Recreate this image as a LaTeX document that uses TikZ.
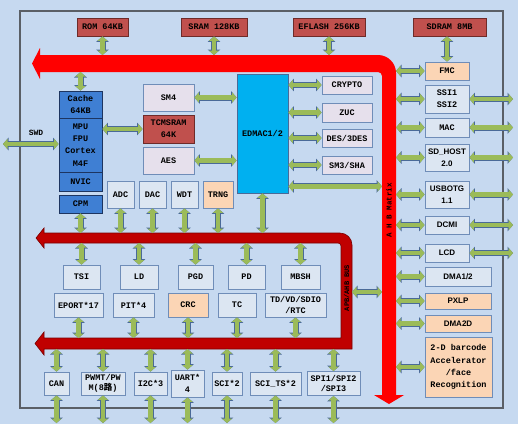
\documentclass[tikz,border=0pt]{standalone}
\usepackage{fontspec}
\setmainfont{Liberation Serif}
\setsansfont{Liberation Sans}
\setmonofont{Liberation Mono}
\newfontfamily\cjk{Noto Sans CJK SC}
\usetikzlibrary{arrows.meta}

\definecolor{bgblue}{HTML}{C6D9F0}
\definecolor{rimgray}{HTML}{5A5F66}
\definecolor{boxfill}{HTML}{DCE6F2}
\definecolor{boxline}{HTML}{6F8DB8}
\definecolor{memred}{HTML}{C0504D}
\definecolor{memline}{HTML}{6E2B29}
\definecolor{peach}{HTML}{FBD5B5}
\definecolor{lavender}{HTML}{E6E0EC}
\definecolor{cpublue}{HTML}{3F7FD3}
\definecolor{cpuline}{HTML}{1D3560}
\definecolor{dmacyan}{HTML}{00B0F0}
\definecolor{lgreen}{HTML}{9BBB59}
\definecolor{linkedge}{HTML}{4A6A98}
\definecolor{ahbred}{HTML}{FF0000}
\definecolor{apbred}{HTML}{C00000}
\definecolor{apbline}{HTML}{7A0000}

\tikzset{
  box/.style={draw=boxline, fill=boxfill, line width=0.8pt, inner sep=0pt,
    align=center, font=\ttfamily\bfseries\fontsize{8.5}{12.3}\selectfont},
  sz/.style 2 args={minimum width=#1, minimum height=#2},
  mem/.style={box, fill=memred, draw=memline},
  hot/.style={box, fill=peach},
  lav/.style={box, fill=lavender},
  cpu/.style={box, fill=cpublue, draw=cpuline},
  sf/.style={font=\sffamily\bfseries\fontsize{8}{12.3}\selectfont},
  buslabel/.style={inner sep=0pt, font=\ttfamily\bfseries\fontsize{7.5}{8}\selectfont},
  link/.style={draw=lgreen, line width=4.5pt,
    {Triangle[width=10pt,length=4.5pt]}-{Triangle[width=10pt,length=4.5pt]},
    preaction={draw=linkedge, line width=6pt,
      {Triangle[width=12.5pt,length=5.5pt]}-{Triangle[width=12.5pt,length=5.5pt]}}}
}

\begin{document}
\begin{tikzpicture}[x=1pt, y=-1pt]
  \useasboundingbox (0,0) rectangle (518,424);
  \fill[bgblue] (0,0) rectangle (518,424);
  \draw[rimgray, line width=1.2pt] (20,11) rectangle (503,408);

  % AHB matrix
  \fill[ahbred] (32,63.5) -- (40,48) -- (40,55) -- (200,55) [rounded corners=18pt]
    -- (396,55) -- (396,200) [sharp corners] -- (396,395) -- (404,395) -- (389,404)
    -- (374,395) -- (382,395) -- (382,200) [rounded corners=4pt] -- (382,72)
    -- (200,72) [sharp corners] -- (40,72) -- (40,79) -- cycle;
  % APB bus
  \filldraw[fill=apbred, draw=apbline, line width=0.6pt] (36,238) -- (44,228) -- (44,233)
    -- (200,233) [rounded corners=12pt] -- (352,233) -- (352,300) [sharp corners]
    -- (352,349) -- (44,349) -- (44,355) -- (35,343.5) -- (44,332) -- (44,338)
    -- (341,338) -- (341,300) [rounded corners=3pt] -- (341,243) -- (200,243)
    [sharp corners] -- (44,243) -- (44,248) -- cycle;
  \node[buslabel, rotate=90] (ahbname) at (389,210) {A H B Matrix};
  \node[buslabel, font=\ttfamily\bfseries\fontsize{7}{8}\selectfont, rotate=90] (apbname) at (346.5,288) {APB/AHB BUS};

  \coordinate (ahbtop) at (0,55);
  \coordinate (ahbbot) at (0,72);
  \coordinate (ahbleft) at (382,0);
  \coordinate (ahbright) at (396,0);
  \coordinate (apbtop) at (0,233);
  \coordinate (apbmid) at (0,243);
  \coordinate (apblow) at (0,338);
  \coordinate (apbbot) at (0,349);
  \coordinate (bridge) at (352,292);
  \coordinate (rim) at (513,0);
  \coordinate (floor) at (0,423);
  \coordinate (swd) at (3,144);

  % memories
  \node[mem, sz={51}{18}] (rom) at (102.5,27) {ROM 64KB};
  \node[mem, sz={66}{18}] (sram) at (214,27) {SRAM 128KB};
  \node[mem, sz={72}{18}] (flash) at (329,27) {EFLASH 256KB};
  \node[mem, sz={73}{18}] (sdram) at (449.5,27) {SDRAM 8MB};

  % core
  \node[cpu, sz={43}{27}] (cache) at (80.5,104.5) {Cache\\64KB};
  \node[cpu, sz={43}{54}] (core) at (80.5,145) {MPU\\FPU\\Cortex\\M4F};
  \node[cpu, sz={43}{19}] (nvic) at (80.5,181.5) {NVIC};
  \node[cpu, sz={43}{18}] (cpm) at (80.5,204) {CPM};
  \node[buslabel, font=\ttfamily\bfseries\fontsize{8}{9}\selectfont] (swdname) at (36,133) {SWD};

  \node[lav, sz={51}{27}] (sm4) at (168.5,97.5) {SM4};
  \node[mem, sz={51}{28}] (tcm) at (168.5,129) {TCMSRAM\\64K};
  \node[lav, sz={51}{27}] (aes) at (168.5,160.5) {AES};
  \node[box, fill=dmacyan, draw=linkedge, sz={51}{119}] (edmac) at (262.5,133.5) {EDMAC1/2};
  \node[lav, sz={50}{18}] (crypto) at (347,85) {CRYPTO};
  \node[lav, sz={50}{19}] (zuc) at (347,112.5) {ZUC};
  \node[lav, sz={50}{18}] (des) at (347,138) {DES/3DES};
  \node[lav, sz={50}{18}] (sm3) at (347,165) {SM3/SHA};

  % peripherals on the APB bus
  \node[box, sz={27}{27}] (adc) at (120.5,194.5) {ADC};
  \node[box, sz={27}{27}] (dac) at (152.5,194.5) {DAC};
  \node[box, sz={27}{27}] (wdt) at (184.5,194.5) {WDT};
  \node[hot, sz={30}{27}] (trng) at (218,194.5) {TRNG};

  \node[box, sz={37}{24}] (tsi) at (81.5,277) {TSI};
  \node[box, sz={38}{24}] (ld) at (139,277) {LD};
  \node[box, sz={35}{24}] (pgd) at (195.5,277) {PGD};
  \node[box, sz={37}{24}] (pd) at (246.5,277) {PD};
  \node[box, sz={39}{24}] (mbsh) at (300.5,277) {MBSH};

  \node[box, sz={49}{24}] (eport) at (78.5,305) {EPORT*17};
  \node[box, sz={41}{24}] (pit) at (133.5,305) {PIT*4};
  \node[hot, sz={40}{24}] (crc) at (188,305) {CRC};
  \node[box, sz={38}{24}] (tc) at (237,305) {TC};
  \node[box, sz={61}{24}, font=\ttfamily\bfseries\fontsize{8.5}{11}\selectfont] (rtc) at (295.5,305) {TD/VD/SDIO\\/RTC};

  \node[box, sz={25}{23}] (can) at (56.5,383.5) {CAN};
  \node[box, sz={44}{23}, font=\ttfamily\bfseries\fontsize{8.5}{10.5}\selectfont] (pwm) at (103,383.5) {PWMT/PW\\M(8{\cjk 路})};
  \node[box, sz={33}{23}] (i2c) at (150.5,383.5) {I2C*3};
  \node[box, sz={33}{27}, font=\ttfamily\bfseries\fontsize{8.5}{11.5}\selectfont] (uart) at (187.5,383.5) {UART*\\4};
  \node[box, sz={30}{23}] (sci) at (227,383.5) {SCI*2};
  \node[box, sz={51}{23}] (scits) at (275.5,383.5) {SCI\_TS*2};
  \node[box, sz={53}{24}, font=\ttfamily\bfseries\fontsize{8.5}{10.5}\selectfont] (spi) at (333.5,383.5) {SPI1/SPI2\\/SPI3};

  % peripherals on the AHB matrix
  \node[hot, sz={44}{18}] (fmc) at (447,71) {FMC};
  \node[box, sz={44}{28}] (ssi) at (447,99) {SSI1\\SSI2};
  \node[box, sz={44}{19}] (mac) at (447,127.5) {MAC};
  \node[box, sf, sz={44}{27}] (sdh) at (447,157.5) {SD\_HOST\\2.0};
  \node[box, sf, sz={44}{27}] (usb) at (447,194.5) {USBOTG\\1.1};
  \node[box, sf, sz={44}{18}] (dcmi) at (447,225) {DCMI};
  \node[box, sf, sz={44}{18}] (lcd) at (447,253) {LCD};
  \node[box, sf, sz={66}{19}] (dma) at (458,276.5) {DMA1/2};
  \node[hot, sf, sz={66}{16}] (pxp) at (458,301) {PXLP};
  \node[hot, sf, sz={66}{17}] (d2d) at (458,323.5) {DMA2D};
  \node[hot, sz={67}{60}] (face) at (458.5,367) {2-D barcode\\Accelerator\\/face\\Recognition};

  % links
  \foreach \n in {rom,sram,flash} \draw[link] (\n.south) -- (\n.south |- ahbtop);
  \draw[link] (fmc.north) -- (fmc.north |- sdram.south);
  \draw[link] (cache.north) -- (cache.north |- ahbbot);
  \draw[link] (swd) -- (swd -| core.west);
  \draw[link] (tcm.west) -- (tcm.west -| core.east);
  \draw[link] (sm4.east) -- (sm4.east -| edmac.west);
  \draw[link] (aes.east) -- (aes.east -| edmac.west);
  \foreach \n in {crypto,zuc,des,sm3} \draw[link] (\n.west) -- (\n.west -| edmac.east);
  \draw[link] ([yshift=7pt]edmac.south east) -- ([yshift=7pt]edmac.south east -| ahbleft);
  \draw[link] (edmac.south) -- (edmac.south |- apbtop);
  \draw[link] (bridge) -- (bridge -| ahbleft);
  \foreach \n in {cpm,adc,dac,wdt,trng} \draw[link] (\n.south) -- (\n.south |- apbtop);
  \foreach \n in {tsi,ld,pgd,pd,mbsh} \draw[link] (\n.north) -- (\n.north |- apbmid);
  \foreach \n in {eport,pit,crc,tc,rtc} \draw[link] (\n.south) -- (\n.south |- apblow);
  \foreach \n in {can,pwm,i2c,uart,sci,scits,spi} {
    \draw[link] (\n.north) -- (\n.north |- apbbot);
    \draw[link] (\n.south) -- (\n.south |- floor);
  }
  \foreach \n in {fmc,ssi,mac,sdh,usb,dcmi,lcd,dma,pxp,d2d,face}
    \draw[link] (\n.west) -- (\n.west -| ahbright);
  \foreach \n in {ssi,mac,sdh,usb,dcmi,lcd} \draw[link] (\n.east) -- (\n.east -| rim);
\end{tikzpicture}
\end{document}
